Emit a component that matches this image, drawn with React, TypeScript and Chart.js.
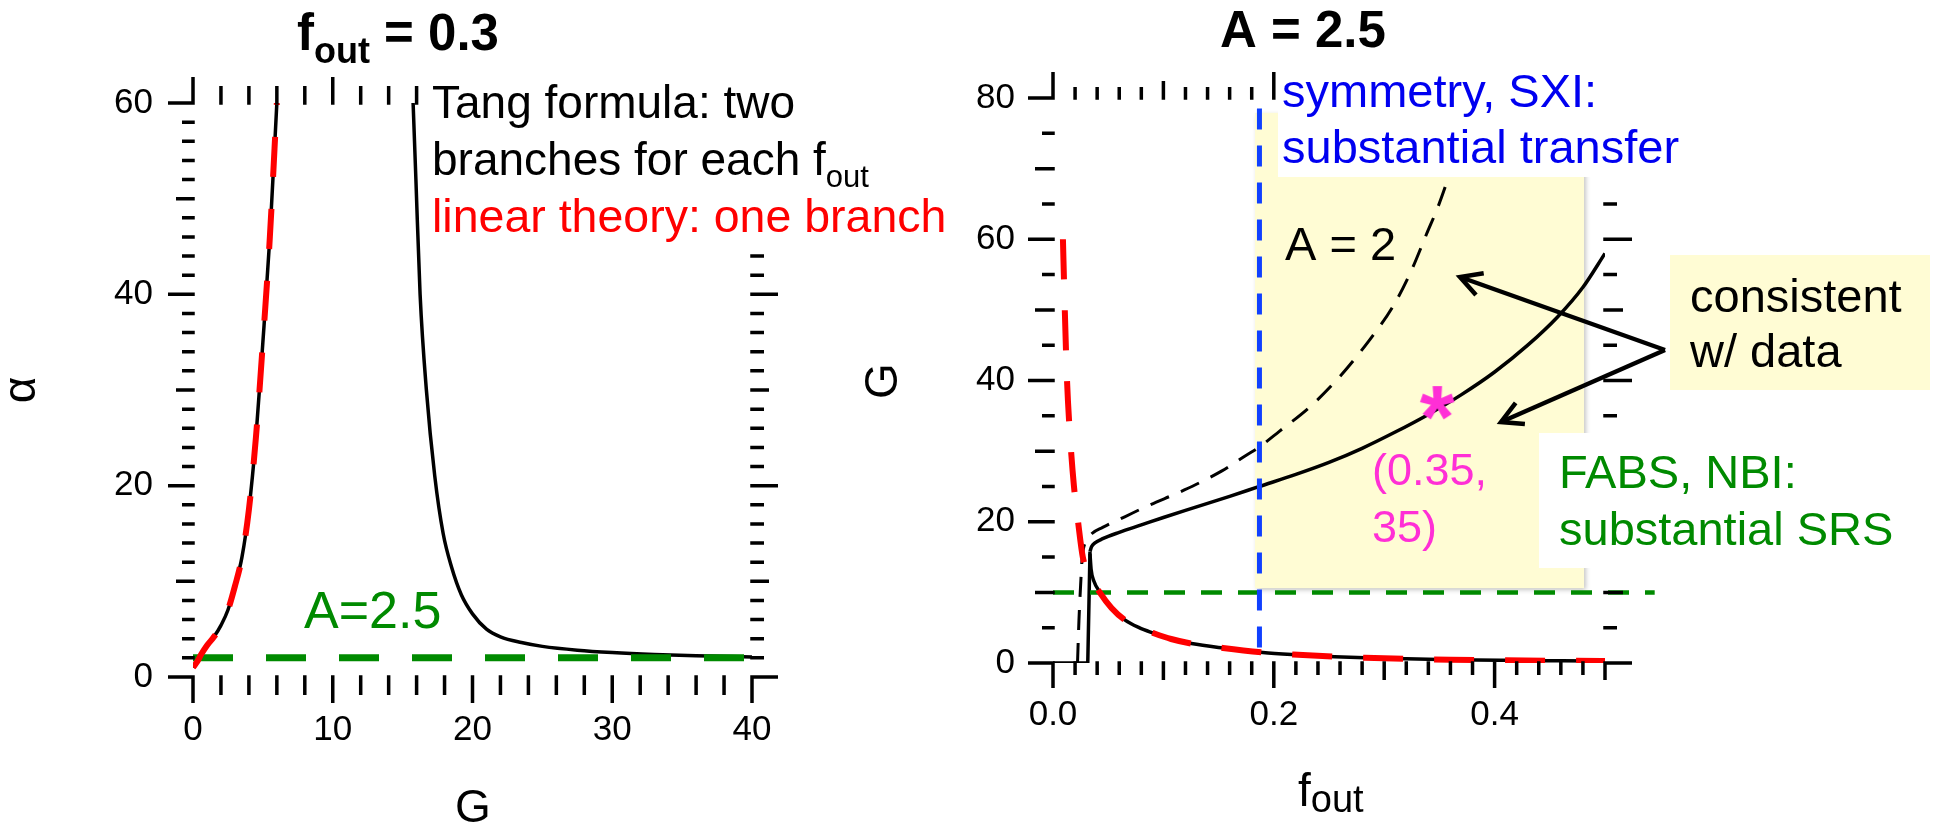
import React, { useEffect, useRef } from "react";
import { Chart, registerables } from "chart.js";

Chart.register(...registerables);

const FONT = '"Liberation Sans", Arial, Helvetica, sans-serif';
const W = 1937;
const H = 826;

const GREEN = "#008a00";
const RED = "#ff0000";
const BLUE_TEXT = "#0000f0";
const BLUE_LINE = "#1040ff";
const PINK = "#ff2fd6";
const YELLOW = "#fffcd4";

// ---------------- Left panel: f_out = 0.3 (alpha vs G) ----------------
const LEFT_X_TICKS = [0, 10, 20, 30, 40];
const LEFT_Y_TICKS = [0, 20, 40, 60];
// lower Tang branch, identical to the linear-theory curve
const LOW_BRANCH_G = [0, 0.3, 0.6, 1.0, 1.5, 2.0, 2.5, 3.0, 3.5, 4.0, 4.5, 5.0, 5.5, 6.0];
const LOW_BRANCH_ALPHA = [1.0, 1.6, 2.4, 3.3, 4.2, 5.4, 7.0, 9.5, 12.5, 17.5, 25, 35, 46, 60];
// upper Tang branch
const HIGH_BRANCH_G = [15.75, 15.95, 16.25, 16.7, 17.3, 17.9, 18.5, 19.2, 20.0, 21.0, 22.0, 23.5, 25, 27.5, 30, 33, 36, 40];
const HIGH_BRANCH_ALPHA = [60, 52, 40, 30, 21, 15, 11.5, 8.6, 6.6, 5.0, 4.2, 3.6, 3.2, 2.8, 2.55, 2.35, 2.22, 2.1];
// A = 2.5 level
const A25_LEVEL_G = [0, 39.5];
const A25_LEVEL_ALPHA = [2, 2];

// ---------------- Right panel: A = 2.5 (G vs f_out) ----------------
const RIGHT_X_TICKS = [0, 0.2, 0.4];
const RIGHT_Y_TICKS = [0, 20, 40, 60, 80];
const LINEAR_F = [0.009, 0.0105, 0.0127, 0.0155, 0.019, 0.0227, 0.027, 0.033, 0.0423, 0.053, 0.065, 0.078, 0.0906, 0.107, 0.1254, 0.154, 0.19, 0.2175, 0.255, 0.2825, 0.32, 0.36, 0.41, 0.46, 0.5];
const LINEAR_GAIN = [60, 51, 40, 32, 25, 20, 15, 12.5, 10, 7.8, 6.1, 5.0, 4.25, 3.4, 2.75, 2.12, 1.5, 1.2, 0.9, 0.75, 0.6, 0.47, 0.38, 0.32, 0.28];
const TANG_STEP_F = [0, 0.0315, 0.0335];
const TANG_STEP_GAIN = [0, 0, 15.8];
const TANG_UPPER_F = [0.0335, 0.035, 0.038, 0.045, 0.06, 0.08, 0.1, 0.13, 0.16, 0.187, 0.22, 0.25, 0.28, 0.31, 0.34, 0.37, 0.4, 0.43, 0.457, 0.48, 0.5];
const TANG_UPPER_GAIN = [15.8, 16.5, 17.0, 17.6, 18.5, 19.55, 20.6, 22.1, 23.6, 25.0, 26.7, 28.4, 30.4, 32.7, 35.2, 38.0, 41.2, 45.0, 49.0, 53.2, 58.0];
const TANG_LOWER_F = [0.0335, 0.0345, 0.037, 0.0423, 0.053, 0.065, 0.078, 0.0906, 0.107, 0.1254, 0.154, 0.19, 0.2175, 0.255, 0.2825, 0.32, 0.36, 0.41, 0.46, 0.5];
const TANG_LOWER_GAIN = [15.5, 13.3, 11.6, 10.1, 7.8, 6.1, 5.0, 4.25, 3.4, 2.75, 2.12, 1.5, 1.2, 0.9, 0.75, 0.6, 0.47, 0.38, 0.32, 0.28];
const A2_F = [0.0222, 0.0235, 0.025, 0.0265, 0.029, 0.035, 0.045, 0.065, 0.085, 0.119, 0.153, 0.174, 0.187, 0.205, 0.233, 0.26, 0.287, 0.308, 0.325, 0.338, 0.349, 0.357, 0.366, 0.375];
const A2_GAIN = [0, 6, 11, 15, 17, 18.3, 19.2, 20.7, 22.2, 24.5, 27.2, 29.3, 30.6, 32.8, 36.3, 40.6, 45.8, 50.5, 55.7, 60.6, 64.7, 68.2, 72.5, 77];
const SYMMETRY_F = [0.187, 0.187];
const SYMMETRY_GAIN = [78.5, 1.6];
const SRS_LEVEL_F = [0, 0.545];
const SRS_LEVEL_GAIN = [10, 10];
const DATA_POINT_F = [0.348];
const DATA_POINT_GAIN = [36.8];
// shaded "consistent with data" region (data coordinates)
const REGION_F = [0.183, 0.481];
const REGION_GAIN = [10.6, 77.9];

const pts = (xs: number[], ys: number[]) => xs.map((x, i) => ({ x, y: ys[i] }));

type TickRule = { step: number; len: number };
type TickSpec = { bottom: TickRule[]; top: TickRule[]; left: TickRule[]; right: TickRule[] };

const LEFT_TICK_SPEC: TickSpec = {
  bottom: [{ step: 10, len: 26 }, { step: 2, len: 18 }],
  top: [{ step: 10, len: 26 }, { step: 2, len: 17 }],
  left: [{ step: 20, len: 25 }, { step: 10, len: 17 }, { step: 2, len: 11 }],
  right: [{ step: 20, len: 26 }, { step: 10, len: 17 }, { step: 2, len: 12 }],
};
const RIGHT_TICK_SPEC: TickSpec = {
  bottom: [{ step: 0.2, len: 25 }, { step: 0.1, len: 17 }, { step: 0.02, len: 12 }],
  top: [{ step: 0.2, len: 26 }, { step: 0.1, len: 17 }, { step: 0.02, len: 11 }],
  left: [{ step: 20, len: 25 }, { step: 10, len: 18 }, { step: 5, len: 11 }],
  right: [{ step: 20, len: 27 }, { step: 10, len: 18 }, { step: 5, len: 12 }],
};

function lenFor(v: number, rules: TickRule[]) {
  for (const r of rules) {
    const q = v / r.step;
    if (Math.abs(q - Math.round(q)) < 1e-6) return r.len;
  }
  return 0;
}
function valuesFor(min: number, max: number, rules: TickRule[]) {
  const st = Math.min(...rules.map((r) => r.step));
  const n = Math.round((max - min) / st);
  return Array.from({ length: n + 1 }, (_, i) => min + i * st);
}

function drawFrameTicks(chart: any, spec: TickSpec) {
  const { ctx, chartArea: a } = chart;
  const xs = chart.scales.x;
  const ys = chart.scales.y;
  const lw = 3.5;
  const h = lw / 2;
  ctx.save();
  ctx.strokeStyle = "#000";
  ctx.lineWidth = lw;
  ctx.lineCap = "butt";
  ctx.beginPath();
  for (const v of valuesFor(xs.min, xs.max, spec.bottom)) {
    const p = xs.getPixelForValue(v);
    const lb = lenFor(v, spec.bottom);
    if (lb) {
      ctx.moveTo(p, a.bottom - h);
      ctx.lineTo(p, a.bottom + lb);
    }
    const lt = lenFor(v, spec.top);
    if (lt) {
      ctx.moveTo(p, a.top + h);
      ctx.lineTo(p, a.top - lt);
    }
  }
  for (const v of valuesFor(ys.min, ys.max, spec.left)) {
    const p = ys.getPixelForValue(v);
    const ll = lenFor(v, spec.left);
    if (ll) {
      ctx.moveTo(a.left + h, p);
      ctx.lineTo(a.left - ll, p);
    }
    const lr = lenFor(v, spec.right);
    if (lr) {
      ctx.moveTo(a.right - h, p);
      ctx.lineTo(a.right + lr, p);
    }
  }
  ctx.stroke();
  ctx.restore();
}

function txt(ctx: CanvasRenderingContext2D, s: string, x: number, y: number, size: number, color: string, weight = "normal") {
  ctx.save();
  ctx.font = `${weight} ${size}px ${FONT}`;
  ctx.fillStyle = color;
  ctx.textAlign = "left";
  ctx.textBaseline = "alphabetic";
  ctx.fillText(s, x, y);
  const w = ctx.measureText(s).width;
  ctx.restore();
  return w;
}

function rotText(ctx: CanvasRenderingContext2D, s: string, cx: number, cy: number, size: number, centerAbove: number) {
  ctx.save();
  ctx.translate(cx, cy);
  ctx.rotate(-Math.PI / 2);
  ctx.font = `${size}px ${FONT}`;
  ctx.fillStyle = "#000";
  ctx.textAlign = "center";
  ctx.textBaseline = "alphabetic";
  ctx.fillText(s, 0, centerAbove * size);
  ctx.restore();
}

function arrow(ctx: CanvasRenderingContext2D, x0: number, y0: number, x1: number, y1: number) {
  const head = 24;
  const ang = Math.atan2(y1 - y0, x1 - x0);
  ctx.save();
  ctx.strokeStyle = "#000";
  ctx.lineWidth = 4.5;
  ctx.lineCap = "butt";
  ctx.lineJoin = "miter";
  ctx.beginPath();
  ctx.moveTo(x0, y0);
  ctx.lineTo(x1, y1);
  ctx.stroke();
  ctx.beginPath();
  ctx.moveTo(x1 - head * Math.cos(ang - 0.5), y1 - head * Math.sin(ang - 0.5));
  ctx.lineTo(x1, y1);
  ctx.lineTo(x1 - head * Math.cos(ang + 0.5), y1 - head * Math.sin(ang + 0.5));
  ctx.stroke();
  ctx.restore();
}

function makeStar(color: string) {
  const c = document.createElement("canvas");
  c.width = 44;
  c.height = 44;
  const g = c.getContext("2d") as CanvasRenderingContext2D;
  g.font = `bold 100px ${FONT}`;
  const m = g.measureText("*");
  const bw = m.actualBoundingBoxLeft + m.actualBoundingBoxRight;
  const bh = m.actualBoundingBoxAscent + m.actualBoundingBoxDescent;
  const size = (100 * 35) / Math.max(bw, bh, 1);
  g.font = `bold ${size}px ${FONT}`;
  const m2 = g.measureText("*");
  const x0 = 22 - (m2.actualBoundingBoxRight - m2.actualBoundingBoxLeft) / 2;
  const y0 = 22 + (m2.actualBoundingBoxAscent - m2.actualBoundingBoxDescent) / 2;
  g.fillStyle = color;
  g.fillText("*", x0, y0);
  return c;
}

const tickFont = { family: FONT, size: 35, lineHeight: 1 };

const leftDecor = {
  id: "leftDecor",
  afterDatasetsDraw(chart: any) {
    const ctx = chart.ctx as CanvasRenderingContext2D;
    drawFrameTicks(chart, LEFT_TICK_SPEC);
    ctx.save();
    ctx.fillStyle = "#fff";
    ctx.fillRect(428, 55, 534, 193);
    ctx.restore();
    txt(ctx, "Tang formula: two", 432, 118, 46, "#000");
    const w = txt(ctx, "branches for each f", 432, 175, 46, "#000");
    txt(ctx, "out", 432 + w, 187, 31, "#000");
    txt(ctx, "linear theory: one branch", 432, 232, 46.5, RED);
    txt(ctx, "A=2.5", 304, 628, 52, GREEN);
    // title
    let x = 297;
    x += txt(ctx, "f", x, 50, 51, "#000", "bold");
    x += txt(ctx, "out", x, 63, 36, "#000", "bold");
    txt(ctx, " = 0.3", x, 50, 51, "#000", "bold");
    // axis titles
    ctx.save();
    ctx.font = `46px ${FONT}`;
    ctx.fillStyle = "#000";
    ctx.textAlign = "center";
    ctx.fillText("G", 473, 822);
    ctx.restore();
    rotText(ctx, "α", 23, 390, 46, 0.26);
  },
};

const rightDecor = {
  id: "rightDecor",
  beforeDatasetsDraw(chart: any) {
    const ctx = chart.ctx as CanvasRenderingContext2D;
    const xs = chart.scales.x;
    const ys = chart.scales.y;
    const x0 = xs.getPixelForValue(REGION_F[0]);
    const x1 = xs.getPixelForValue(REGION_F[1]);
    const y0 = ys.getPixelForValue(REGION_GAIN[1]);
    const y1 = ys.getPixelForValue(REGION_GAIN[0]);
    ctx.save();
    ctx.shadowColor = "rgba(0,0,0,0.28)";
    ctx.shadowBlur = 5;
    ctx.shadowOffsetX = 2;
    ctx.shadowOffsetY = 2;
    ctx.fillStyle = YELLOW;
    ctx.fillRect(x0, y0, x1 - x0, y1 - y0);
    ctx.restore();
  },
  afterDatasetsDraw(chart: any) {
    const ctx = chart.ctx as CanvasRenderingContext2D;
    drawFrameTicks(chart, RIGHT_TICK_SPEC);
    ctx.save();
    ctx.fillStyle = "#fff";
    ctx.fillRect(1278, 58, 422, 119);
    ctx.fillRect(1539, 433, 366, 135);
    ctx.fillStyle = YELLOW;
    ctx.fillRect(1670, 255, 260, 135);
    ctx.restore();
    txt(ctx, "symmetry, SXI:", 1282, 107, 47, BLUE_TEXT);
    txt(ctx, "substantial transfer", 1282, 163, 47, BLUE_TEXT);
    txt(ctx, "A = 2", 1285, 260, 47, "#000");
    txt(ctx, "(0.35,", 1372, 485, 45, PINK);
    txt(ctx, "35)", 1372, 542, 45, PINK);
    txt(ctx, "consistent", 1690, 312, 47, "#000");
    txt(ctx, "w/ data", 1690, 367, 47, "#000");
    txt(ctx, "FABS, NBI:", 1559, 488, 47, GREEN);
    txt(ctx, "substantial SRS", 1559, 545, 47, GREEN);
    arrow(ctx, 1665, 350, 1460, 277);
    arrow(ctx, 1665, 350, 1501, 422);
    // title
    txt(ctx, "A = 2.5", 1220, 47, 51, "#000", "bold");
    // axis titles
    const w = txt(ctx, "f", 1298, 806, 46, "#000");
    txt(ctx, "out", 1298 + w, 812, 38, "#000");
    rotText(ctx, "G", 880, 381, 46, 0.36);
  },
};

function lineDs(data: any[], color: string, width: number, dash: number[] = [], extra: any = {}) {
  return {
    data,
    borderColor: color,
    backgroundColor: color,
    borderWidth: width,
    borderDash: dash,
    borderCapStyle: "butt",
    borderJoinStyle: "round",
    pointRadius: 0,
    fill: false,
    cubicInterpolationMode: "monotone",
    ...extra,
  };
}

export default function App() {
  const leftRef = useRef<HTMLCanvasElement>(null);
  const rightRef = useRef<HTMLCanvasElement>(null);

  useEffect(() => {
    const common = {
      animation: false,
      responsive: false,
      maintainAspectRatio: false,
      events: [],
      plugins: { legend: { display: false }, tooltip: { enabled: false }, title: { display: false } },
    };

    const left = new Chart(leftRef.current as HTMLCanvasElement, {
      type: "line",
      data: {
        datasets: [
          lineDs(pts(LOW_BRANCH_G, LOW_BRANCH_ALPHA), RED, 6, [40, 32]),
          lineDs(pts(A25_LEVEL_G, A25_LEVEL_ALPHA), GREEN, 7, [40, 33], { cubicInterpolationMode: "default" }),
          lineDs(pts(LOW_BRANCH_G, LOW_BRANCH_ALPHA), "#000", 3.5),
          lineDs(pts(HIGH_BRANCH_G, HIGH_BRANCH_ALPHA), "#000", 3.5),
        ],
      },
      options: {
        ...common,
        layout: { padding: { left: 0, top: 103, right: W - 752, bottom: 0 } },
        scales: {
          x: {
            type: "linear",
            min: 0,
            max: 40,
            afterBuildTicks: (s: any) => {
              s.ticks = LEFT_X_TICKS.map((v) => ({ value: v }));
            },
            afterFit: (s: any) => {
              s.height = H - 677;
            },
            grid: { display: false, drawTicks: false },
            border: { display: false },
            ticks: { padding: 36, font: tickFont, color: "#000", maxRotation: 0, autoSkip: false },
          },
          y: {
            type: "linear",
            min: 0,
            max: 60,
            afterBuildTicks: (s: any) => {
              s.ticks = LEFT_Y_TICKS.map((v) => ({ value: v }));
            },
            afterFit: (s: any) => {
              s.width = 193;
            },
            grid: { display: false, drawTicks: false },
            border: { display: false },
            ticks: { padding: 40, font: tickFont, color: "#000", autoSkip: false },
          },
        },
      } as any,
      plugins: [leftDecor],
    });

    const star = makeStar(PINK);
    const right = new Chart(rightRef.current as HTMLCanvasElement, {
      type: "line",
      data: {
        datasets: [
          {
            data: pts(DATA_POINT_F, DATA_POINT_GAIN),
            showLine: false,
            pointStyle: star,
            pointRadius: 17,
            borderColor: PINK,
            backgroundColor: PINK,
          },
          lineDs(pts(LINEAR_F, LINEAR_GAIN), RED, 6, [40, 31]),
          lineDs(pts(SYMMETRY_F, SYMMETRY_GAIN), BLUE_LINE, 5, [21, 16], { cubicInterpolationMode: "default" }),
          lineDs(pts(SRS_LEVEL_F, SRS_LEVEL_GAIN), GREEN, 4.5, [21, 16], {
            cubicInterpolationMode: "default",
            clip: { left: 5, top: 5, right: 70, bottom: 5 },
          }),
          lineDs(pts(TANG_STEP_F, TANG_STEP_GAIN), "#000", 3.5, [], { cubicInterpolationMode: "default" }),
          lineDs(pts(TANG_UPPER_F, TANG_UPPER_GAIN), "#000", 3.5),
          lineDs(pts(TANG_LOWER_F, TANG_LOWER_GAIN), "#000", 3.5),
          lineDs(pts(A2_F, A2_GAIN), "#000", 3, [20, 13]),
        ],
      },
      options: {
        ...common,
        layout: { padding: { left: 0, top: 98, right: W - 1605, bottom: 0 } },
        scales: {
          x: {
            type: "linear",
            min: 0,
            max: 0.5,
            afterBuildTicks: (s: any) => {
              s.ticks = RIGHT_X_TICKS.map((v) => ({ value: v }));
            },
            afterFit: (s: any) => {
              s.height = H - 663;
            },
            grid: { display: false, drawTicks: false },
            border: { display: false },
            ticks: {
              padding: 35,
              font: tickFont,
              color: "#000",
              maxRotation: 0,
              autoSkip: false,
              callback: (v: any) => Number(v).toFixed(1),
            },
          },
          y: {
            type: "linear",
            min: 0,
            max: 80,
            afterBuildTicks: (s: any) => {
              s.ticks = RIGHT_Y_TICKS.map((v) => ({ value: v }));
            },
            afterFit: (s: any) => {
              s.width = 1053;
            },
            grid: { display: false, drawTicks: false },
            border: { display: false },
            ticks: { padding: 38, font: tickFont, color: "#000", autoSkip: false },
          },
        },
      } as any,
      plugins: [rightDecor],
    });

    return () => {
      left.destroy();
      right.destroy();
    };
  }, []);

  const cs: React.CSSProperties = { position: "absolute", left: 0, top: 0, width: W, height: H };
  return (
    <div style={{ position: "fixed", left: 0, top: 0, width: W, height: H, background: "#fff", overflow: "hidden" }}>
      <canvas ref={leftRef} width={W} height={H} style={cs} />
      <canvas ref={rightRef} width={W} height={H} style={cs} />
    </div>
  );
}
